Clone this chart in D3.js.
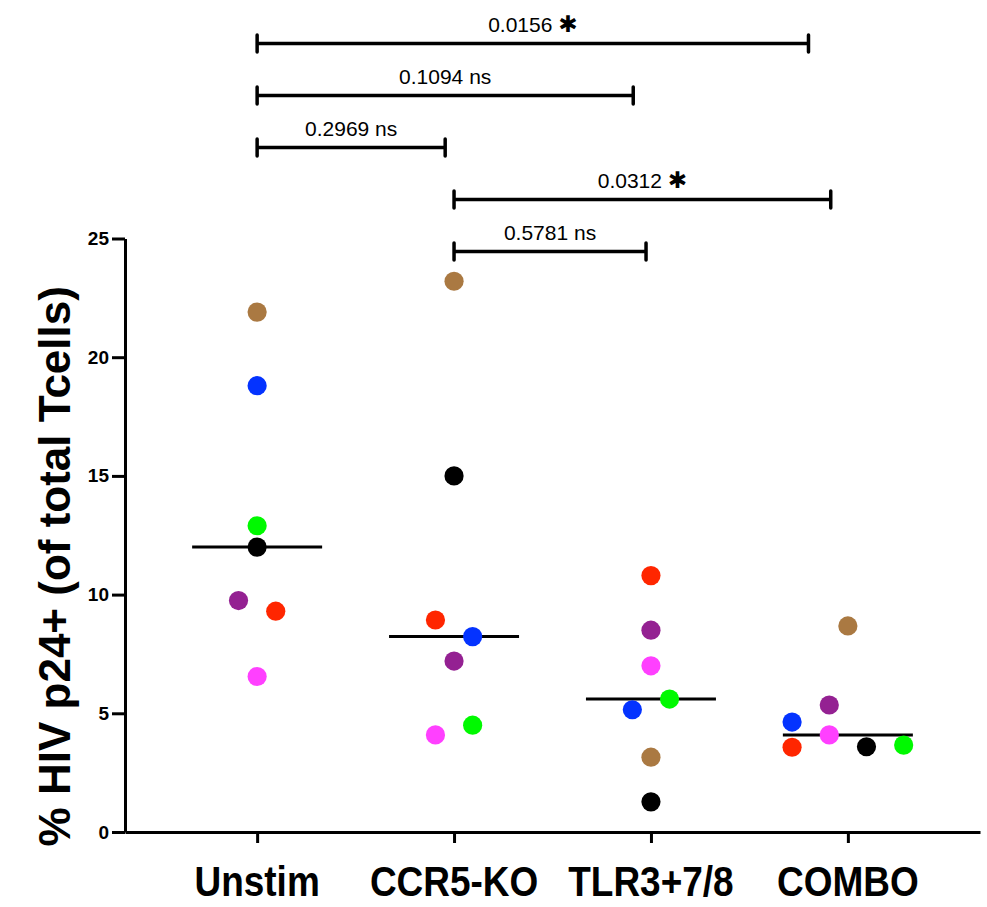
<!DOCTYPE html>
<html>
<head>
<meta charset="utf-8">
<script src="https://cdn.jsdelivr.net/npm/d3@7"></script>
<style>
  body { margin: 0; background: #fff; }
  text { font-family: "Liberation Sans", Arial, Helvetica, sans-serif; }
</style>
</head>
<body>
<div id="chart"></div>
<script>
"use strict";

// groups on the x axis
const groups = ["Unstim", "CCR5-KO", "TLR3+7/8", "COMBO"];

// one colour per donor, same order in every value list below
const donorColors = ["#AA7942", "#0433FF", "#00F900", "#000000", "#942192", "#FF2600", "#FF40FF"];

// % HIV p24+ per donor, per group
const unstimValues = [21.9, 18.8, 12.9, 12.0, 9.75, 9.3, 6.55];
const ccr5Values   = [23.2, 8.23, 4.5, 15.0, 7.2, 8.93, 4.09];
const tlrValues    = [3.15, 5.15, 5.6, 1.27, 8.5, 10.8, 7.0];
const comboValues  = [8.68, 4.63, 3.66, 3.59, 5.35, 3.57, 4.09];

// horizontal scatter slot of each dot (avoid overlap, as in the original)
const unstimSlots = [0, 0, 0, 0, -1, 1, 0];
const ccr5Slots   = [0, 1, 1, 0, 0, -1, -1];
const tlrSlots    = [0, -1, 1, 0, 0, 0, 0];
const comboSlots  = [0, -3, 3, 1, -1, -3, -1];

const yTicks = [0, 5, 10, 15, 20, 25];

// comparisons shown above the plot
const bracketFrom   = ["Unstim", "Unstim", "Unstim", "CCR5-KO", "CCR5-KO"];
const bracketTo     = ["COMBO", "TLR3+7/8", "CCR5-KO", "COMBO", "TLR3+7/8"];
const bracketP      = ["0.0156", "0.1094", "0.2969", "0.0312", "0.5781"];
const bracketSig    = ["✱", "ns", "ns", "✱", "ns"];
const bracketTrim   = [0.2, 0.09, 0.045, 0.087, 0.025]; // right end pulled in, in category steps

const allValues = [unstimValues, ccr5Values, tlrValues, comboValues];
const allSlots = [unstimSlots, ccr5Slots, tlrSlots, comboSlots];

const width = 987, height = 907;

const svg = d3.select("#chart")
    .append("svg")
    .attr("width", width)
    .attr("height", height);

// scales
const x = d3.scalePoint()
    .domain(groups)
    .range([125, 980])
    .padding(0.671);

const y = d3.scaleLinear()
    .domain([0, 25])
    .range([832, 238.5]);

const step = x.step();
const slotWidth = 18.6;
const halfMedian = 65;

// Y axis
const yAxis = svg.append("g")
    .attr("transform", "translate(125,0)")
    .call(d3.axisLeft(y).tickValues(yTicks).tickSize(13).tickSizeOuter(0).tickPadding(3));
yAxis.select(".domain").attr("stroke-width", 3);
yAxis.selectAll(".tick line").attr("stroke-width", 3);
yAxis.selectAll(".tick text")
    .attr("font-size", 19)
    .attr("font-weight", "bold")
    .attr("fill", "#000")
    .style("font-family", "'Liberation Sans', Arial, sans-serif");

// X axis
const xAxis = svg.append("g")
    .attr("transform", "translate(0,832)")
    .call(d3.axisBottom(x).tickSize(11).tickSizeOuter(0).tickFormat(""));
xAxis.select(".domain").attr("stroke-width", 3);
xAxis.selectAll(".tick line").attr("stroke-width", 3);

svg.append("g")
    .selectAll("text")
    .data(groups)
    .join("text")
    .attr("transform", d => "translate(" + x(d) + ",896) scale(0.88,1)")
    .attr("text-anchor", "middle")
    .attr("font-size", 42)
    .attr("font-weight", "bold")
    .text(d => d);

// y axis title
svg.append("text")
    .attr("transform", "translate(70," + ((238.5 + 832) / 2 + 31) + ") rotate(-90)")
    .attr("text-anchor", "middle")
    .attr("font-size", 44)
    .attr("font-weight", "bold")
    .text("% HIV p24+ (of total Tcells)");

// median lines
svg.append("g")
    .selectAll("line")
    .data(groups)
    .join("line")
    .attr("x1", d => x(d) - halfMedian)
    .attr("x2", d => x(d) + halfMedian)
    .attr("y1", (d, i) => y(d3.median(allValues[i])))
    .attr("y2", (d, i) => y(d3.median(allValues[i])))
    .attr("stroke", "#000")
    .attr("stroke-width", 3);

// dots
const points = [];
groups.forEach((g, gi) => {
    allValues[gi].forEach((v, di) => {
        points.push({ group: g, value: v, slot: allSlots[gi][di], color: donorColors[di] });
    });
});

svg.append("g")
    .selectAll("circle")
    .data(points)
    .join("circle")
    .attr("cx", d => x(d.group) + d.slot * slotWidth)
    .attr("cy", d => y(d.value))
    .attr("r", 9.6)
    .attr("fill", d => d.color);

// significance brackets
const level = d3.scaleLinear().domain([0, 4]).range([43.5, 251.5]);

const brackets = svg.append("g");
bracketFrom.forEach((from, i) => {
    const x1 = x(from);
    const x2 = x(bracketTo[i]) - bracketTrim[i] * step;
    const yy = level(i);
    const b = brackets.append("g");
    b.append("line")
        .attr("x1", x1).attr("x2", x2)
        .attr("y1", yy).attr("y2", yy)
        .attr("stroke", "#000").attr("stroke-width", 3.5);
    [x1, x2].forEach(xx => {
        b.append("line")
            .attr("x1", xx).attr("x2", xx)
            .attr("y1", yy - 8.5).attr("y2", yy + 8.5)
            .attr("stroke", "#000").attr("stroke-width", 3.5)
            .attr("stroke-linecap", "round");
    });
    const t = b.append("text")
        .attr("x", (x1 + x2) / 2)
        .attr("y", yy - 12)
        .attr("text-anchor", "middle")
        .attr("font-size", 21);
    t.append("tspan").text(bracketP[i] + " ");
    if (bracketSig[i] === "ns") {
        t.append("tspan").text("ns");
    } else {
        t.append("tspan")
            .style("font-family", "'DejaVu Sans', sans-serif")
            .attr("font-weight", "bold")
            .attr("font-size", 23)
            .text(bracketSig[i]);
    }
});
</script>
</body>
</html>
